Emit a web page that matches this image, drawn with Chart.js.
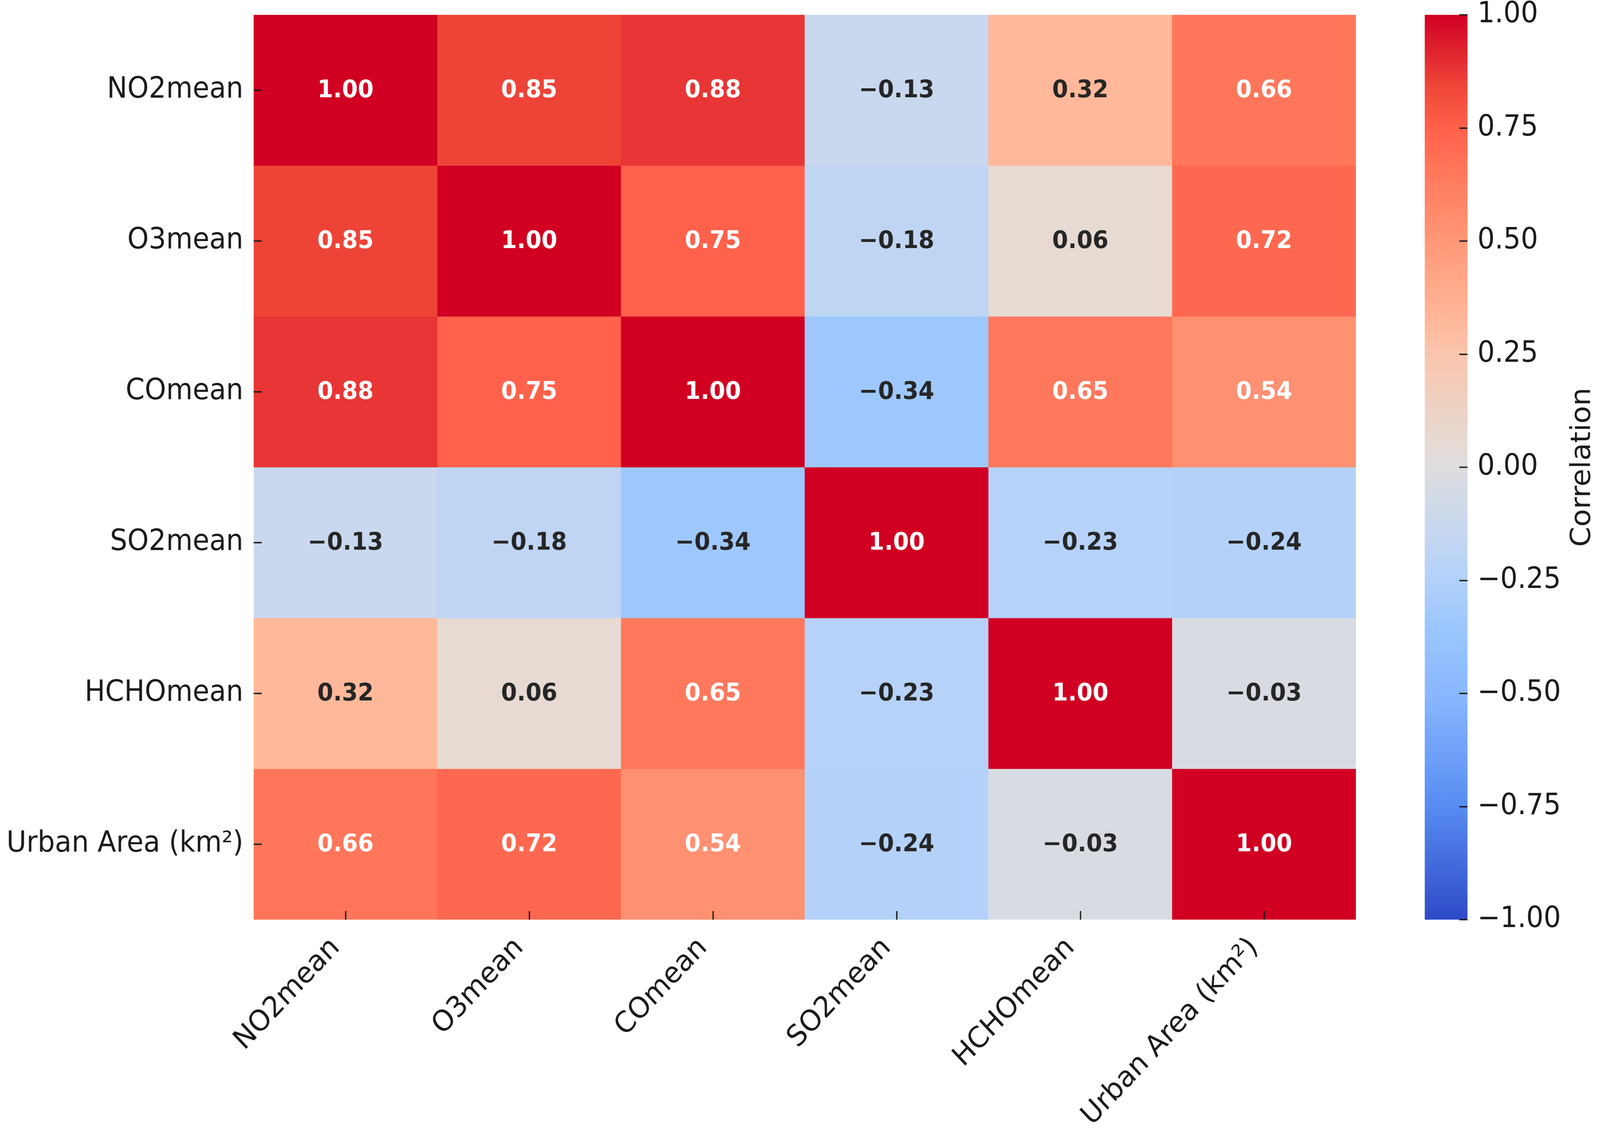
<!DOCTYPE html>
<html>
<head>
<meta charset="utf-8">
<script src="https://cdn.jsdelivr.net/npm/chart.js@4.4.1/dist/chart.umd.min.js"></script>
<style>
  html, body { margin: 0; padding: 0; background: #ffffff; overflow: hidden; }
  #wrap { position: relative; width: 100vw; height: 100vh; background: #ffffff; overflow: hidden; }
  #wrap canvas { position: absolute; left: 0; top: 0; width: 100vw !important; height: 100vh !important; }
</style>
</head>
<body>
<div id="wrap">
  <canvas id="heat" width="4346" height="2895"></canvas>
  <canvas id="cbar" width="4346" height="2895"></canvas>
</div>
<script>
// ---------------- DATA ----------------
const categories = ['NO2mean', 'O3mean', 'COmean', 'SO2mean', 'HCHOmean', 'Urban Area (km\u00b2)'];
const rowNO2   = [ 1.00,  0.85,  0.88, -0.13,  0.32,  0.66];
const rowO3    = [ 0.85,  1.00,  0.75, -0.18,  0.06,  0.72];
const rowCO    = [ 0.88,  0.75,  1.00, -0.34,  0.65,  0.54];
const rowSO2   = [-0.13, -0.18, -0.34,  1.00, -0.23, -0.24];
const rowHCHO  = [ 0.32,  0.06,  0.65, -0.23,  1.00, -0.03];
const rowUrban = [ 0.66,  0.72,  0.54, -0.24, -0.03,  1.00];
const matrix = [rowNO2, rowO3, rowCO, rowSO2, rowHCHO, rowUrban];
const colorbarTicks = [-1.00, -0.75, -0.50, -0.25, 0.00, 0.25, 0.50, 0.75, 1.00];
const colorbarLabel = 'Correlation';

// ---------------- STYLE ----------------
const FONT = "'DejaVu Sans', 'Liberation Sans', sans-serif";
const TEXT = '#1a1a1a';
const DARK_ANN = '#262626';
// colormap stops (value -> rgb), a saturated coolwarm-like map
const cmapStops = [
  [-1.00, [47, 75, 200]],
  [-0.75, [88, 140, 242]],
  [-0.50, [138, 184, 255]],
  [-0.34, [158, 200, 253]],
  [-0.25, [178, 209, 250]],
  [-0.13, [201, 216, 238]],
  [ 0.00, [221, 221, 223]],
  [ 0.06, [231, 218, 210]],
  [ 0.25, [250, 197, 173]],
  [ 0.32, [255, 185, 154]],
  [ 0.50, [255, 152, 120]],
  [ 0.66, [255, 118, 90]],
  [ 0.75, [255, 97, 75]],
  [ 0.85, [238, 68, 56]],
  [ 0.88, [232, 53, 53]],
  [ 1.00, [209, 0, 34]]
];
function cmap(v) {
  if (v <= cmapStops[0][0]) return 'rgb(' + cmapStops[0][1].join(',') + ')';
  for (let i = 1; i < cmapStops.length; i++) {
    const [v1, c1] = cmapStops[i];
    const [v0, c0] = cmapStops[i - 1];
    if (v <= v1) {
      const t = (v - v0) / (v1 - v0);
      const c = c0.map((a, k) => Math.round(a + (c1[k] - a) * t));
      return 'rgb(' + c.join(',') + ')';
    }
  }
  return 'rgb(' + cmapStops[cmapStops.length - 1][1].join(',') + ')';
}
function fmt(v) {
  const s = Math.abs(v).toFixed(2);
  return (v < -0.0001 ? '\u2212' : '') + s;
}

// ---------------- HEATMAP ----------------
const heatDatasets = matrix.map((row, r) => ({
  label: categories[r],
  data: row.map(() => [r, r + 1]),
  cellValues: row,
  backgroundColor: row.map(cmap),
  borderWidth: 0,
  barPercentage: 1,
  categoryPercentage: 1,
  grouped: false
}));

const annotatePlugin = {
  id: 'annotate',
  afterDatasetsDraw(chart) {
    const ctx = chart.ctx;
    ctx.save();
    ctx.font = 'bold 62px ' + FONT;
    ctx.textAlign = 'center';
    ctx.textBaseline = 'middle';
    chart.data.datasets.forEach((ds, di) => {
      const meta = chart.getDatasetMeta(di);
      meta.data.forEach((bar, i) => {
        const v = ds.cellValues[i];
        const cy = (bar.y + bar.base) / 2;
        ctx.fillStyle = v >= 0.5 ? '#ffffff' : DARK_ANN;
        ctx.fillText(fmt(v), bar.x, cy + 2);
      });
    });
    // inward tick marks
    const area = chart.chartArea;
    const xs = chart.scales.x, ys = chart.scales.y;
    ctx.strokeStyle = TEXT;
    ctx.lineWidth = 3.5;
    ctx.beginPath();
    xs.ticks.forEach((t, i) => {
      const px = Math.round(xs.getPixelForTick(i));
      ctx.moveTo(px, area.bottom);
      ctx.lineTo(px, area.bottom - 22);
    });
    ys.ticks.forEach((t) => {
      const py = Math.round(ys.getPixelForValue(t.value));
      ctx.moveTo(area.left, py);
      ctx.lineTo(area.left + 22, py);
    });
    ctx.stroke();
    // rotated category labels under the x axis (anchored at their end, matplotlib-style)
    ctx.font = '74px ' + FONT;
    ctx.fillStyle = TEXT;
    ctx.textAlign = 'right';
    ctx.textBaseline = 'alphabetic';
    xs.ticks.forEach((t, i) => {
      const px = xs.getPixelForTick(i);
      ctx.save();
      ctx.translate(px - 13, area.bottom + 74);
      ctx.rotate(-Math.PI / 4);
      ctx.fillText(xs.getLabelForValue(t.value), 0, 0);
      ctx.restore();
    });
    ctx.restore();
  }
};

new Chart(document.getElementById('heat'), {
  type: 'bar',
  data: { labels: categories, datasets: heatDatasets },
  options: {
    responsive: false,
    devicePixelRatio: 1,
    animation: false,
    events: [],
    layout: { padding: { left: 0, top: 38, right: 663, bottom: 0 } },
    plugins: { legend: { display: false }, tooltip: { enabled: false } },
    scales: {
      x: {
        type: 'category',
        offset: true,
        grid: { display: false, drawTicks: false },
        border: { display: false },
        ticks: { display: false, autoSkip: false },
        afterFit(scale) { scale.height = 541; scale.paddingLeft = 0; scale.paddingRight = 0; }
      },
      y: {
        type: 'linear',
        min: 0,
        max: categories.length,
        reverse: true,
        grid: { display: false, drawTicks: false },
        border: { display: false },
        afterBuildTicks(scale) {
          scale.ticks = categories.map((_, i) => ({ value: i + 0.5 }));
        },
        ticks: {
          autoSkip: false,
          padding: 28,
          color: TEXT,
          font: { family: FONT, size: 74 },
          callback: (v) => categories[Math.floor(v)]
        },
        afterFit(scale) { scale.width = 689; scale.paddingTop = 0; scale.paddingBottom = 0; }
      }
    }
  },
  plugins: [annotatePlugin]
});

// ---------------- COLOUR BAR ----------------
function barGradient(context) {
  const chart = context.chart;
  const area = chart.chartArea;
  if (!area) return cmap(0);
  const g = chart.ctx.createLinearGradient(0, area.bottom, 0, area.top);
  cmapStops.forEach(([v, c]) => g.addColorStop((v + 1) / 2, 'rgb(' + c.join(',') + ')'));
  return g;
}

const cbarPlugin = {
  id: 'cbarDecor',
  afterDatasetsDraw(chart) {
    const ctx = chart.ctx;
    const area = chart.chartArea;
    const ys = chart.scales.y;
    ctx.save();
    ctx.strokeStyle = TEXT;
    ctx.lineWidth = 3.5;
    ctx.beginPath();
    ys.ticks.forEach((t) => {
      const py = Math.round(ys.getPixelForValue(t.value));
      ctx.moveTo(area.right - 22, py);
      ctx.lineTo(area.right, py);
    });
    ctx.stroke();
    ctx.translate(area.right + 314, (area.top + area.bottom) / 2);
    ctx.rotate(-Math.PI / 2);
    ctx.font = '74px ' + FONT;
    ctx.fillStyle = TEXT;
    ctx.textAlign = 'center';
    ctx.textBaseline = 'middle';
    ctx.fillText(colorbarLabel, 0, 0);
    ctx.restore();
  }
};

new Chart(document.getElementById('cbar'), {
  type: 'bar',
  data: {
    labels: [colorbarLabel],
    datasets: [{
      data: [[colorbarTicks[0], colorbarTicks[colorbarTicks.length - 1]]],
      backgroundColor: barGradient,
      borderWidth: 0,
      barPercentage: 1,
      categoryPercentage: 1
    }]
  },
  options: {
    responsive: false,
    devicePixelRatio: 1,
    animation: false,
    events: [],
    layout: { padding: { left: 3870, top: 38, right: 0, bottom: 541 } },
    plugins: { legend: { display: false }, tooltip: { enabled: false } },
    scales: {
      x: { display: false },
      y: {
        type: 'linear',
        position: 'right',
        min: colorbarTicks[0],
        max: colorbarTicks[colorbarTicks.length - 1],
        grid: { display: false, drawTicks: false },
        border: { display: false },
        afterBuildTicks(scale) {
          scale.ticks = colorbarTicks.map((v) => ({ value: v }));
        },
        ticks: {
          autoSkip: false,
          padding: 27,
          color: TEXT,
          font: { family: FONT, size: 74 },
          callback: (v) => fmt(v)
        },
        afterFit(scale) { scale.width = 360; scale.paddingTop = 0; scale.paddingBottom = 0; }
      }
    }
  },
  plugins: [cbarPlugin]
});
</script>
</body>
</html>
